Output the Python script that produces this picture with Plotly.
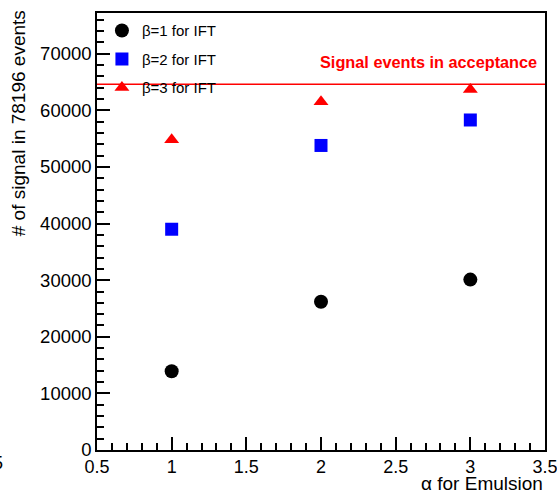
import plotly.graph_objects as go

# alpha parameter for emulsion (x) and number of signal events per beta setting
alpha = [1, 2, 3]
beta1_counts = [13900, 26200, 30100]
beta2_counts = [39000, 53800, 58300]
beta3_counts = [54800, 61500, 63700]
acceptance_events = 64600

series_names = ["β=1 for IFT", "β=2 for IFT", "β=3 for IFT"]

FONT = "Liberation Sans, Arial, Helvetica, sans-serif"

fig = go.Figure()

styles = [
    dict(symbol="circle", color="black", size=14),
    dict(symbol="square", color="#0000ff", size=13),
    dict(symbol="triangle-up", color="#ff0000", size=13),
]

for i, (name, ys, st) in enumerate(zip(series_names, [beta1_counts, beta2_counts, beta3_counts], styles)):
    fig.add_trace(go.Scatter(
        x=alpha, y=ys, mode="markers", name=name,
        legendgroup=f"g{i}",
        marker=dict(symbol=st["symbol"], color=st["color"], size=st["size"],
                    line=dict(width=0)),
    ))

# acceptance reference line
fig.add_shape(type="line", xref="paper", x0=0, x1=1, yref="y",
              y0=acceptance_events, y1=acceptance_events,
              line=dict(color="#ff0000", width=1.5))

fig.add_annotation(text="<b>Signal events in acceptance</b>", xref="paper", x=1,
                   xanchor="right", xshift=-6, yref="y", y=acceptance_events,
                   yanchor="bottom", yshift=11, showarrow=False,
                   font=dict(family=FONT, size=16.3, color="#ff0000"))

# axis titles
fig.add_annotation(text="# of signal in 78196 events", xref="paper", yref="paper",
                   x=-0.175, y=1.01, xanchor="center", yanchor="top",
                   textangle=-90, showarrow=False,
                   font=dict(family=FONT, size=19, color="black"))
fig.add_annotation(text="α for Emulsion", xref="paper", yref="paper",
                   x=1, y=-0.047, xanchor="right", yanchor="top",
                   showarrow=False, font=dict(family=FONT, size=19, color="black"))
fig.add_annotation(text="0.5", xref="paper", yref="paper",
                   x=-0.205, y=-0.003, xanchor="right", yanchor="top",
                   showarrow=False, font=dict(family=FONT, size=18, color="black"))

axis_common = dict(
    showgrid=False, zeroline=False, showline=True, linecolor="black", linewidth=1.5,
    mirror=True, ticks="inside", ticklen=13, tickwidth=1.5, tickcolor="black",
    automargin=False, ticklabeloverflow="allow",
)

fig.update_xaxes(range=[0.5, 3.5], dtick=0.5, tick0=0.5,
                 tickfont=dict(family=FONT, size=18, color="black"),
                 minor=dict(ticks="inside", ticklen=7, dtick=0.1, tick0=0.5,
                            tickwidth=1.5, tickcolor="black", showgrid=False),
                 **axis_common)
fig.update_yaxes(range=[0, 77200], dtick=10000, tick0=0, tickformat="d",
                 tickfont=dict(family=FONT, size=18.5, color="black"),
                 minor=dict(ticks="inside", ticklen=7, dtick=2000, tick0=0,
                            tickwidth=1.5, tickcolor="black", showgrid=False),
                 **axis_common)

fig.update_layout(
    width=557, height=492,
    margin=dict(l=97, r=12, t=13, b=42),
    paper_bgcolor="white", plot_bgcolor="white",
    showlegend=True,
    legend=dict(x=0.011, y=0.997, xanchor="left", yanchor="top",
                bgcolor="rgba(0,0,0,0)", borderwidth=0,
                traceorder="grouped", tracegroupgap=6,
                font=dict(family=FONT, size=15, color="black"),
                itemwidth=30),
)

fig.write_html("out.html")
